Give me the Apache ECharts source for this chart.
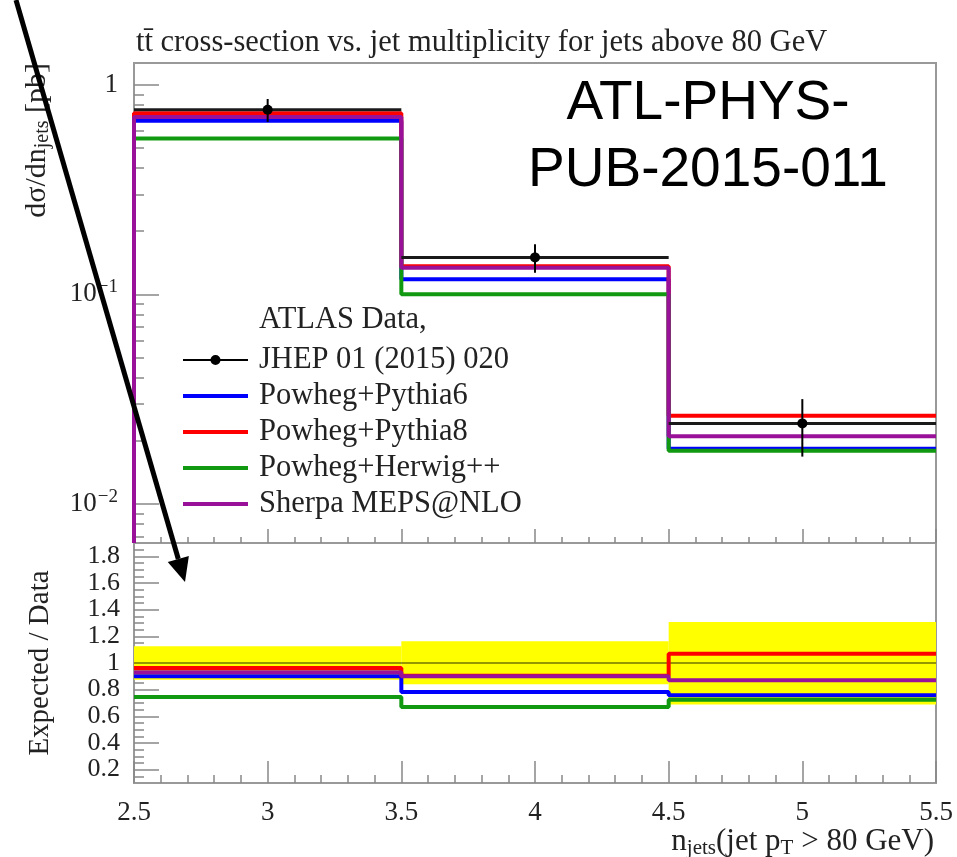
<!DOCTYPE html>
<html>
<head>
<meta charset="utf-8">
<script src="https://cdn.jsdelivr.net/npm/echarts@6/dist/echarts.min.js"></script>
<style>
  html, body { margin: 0; padding: 0; background: #fff; }
  #chart { width: 957px; height: 857px; }
</style>
</head>
<body>
<div id="chart"></div>
<script>
// n_jets bins
const binEdges = [2.5, 3.5, 4.5, 5.5];
const binCentres = [3, 4, 5];

// top panel, dsigma/dn_jets [pb]
const dataValues = [0.76, 0.150, 0.0242];
const dataErrors = [0.095, 0.0234, 0.0074];
const pythia6 = [0.673, 0.118, 0.0183];
const pythia8 = [0.732, 0.136, 0.0263];
const herwig = [0.554, 0.100, 0.0179];
const sherpa = [0.701, 0.134, 0.0210];

// bottom panel, Expected/Data
const bandLow = [0.875, 0.84, 0.688];
const bandHigh = [1.125, 1.163, 1.308];
const ratioData = [1, 1, 1];
const ratioPythia6 = [0.90, 0.783, 0.758];
const ratioPythia8 = [0.963, 0.905, 1.07];
const ratioHerwig = [0.745, 0.67, 0.725];
const ratioSherpa = [0.93, 0.90, 0.87];

// tick labels
const logTicks = [0.01, 0.1, 1];
const ratioTicks = [0.2, 0.4, 0.6, 0.8, 1, 1.2, 1.4, 1.6, 1.8];

const NAME_DATA = 'ATLAS Data, JHEP 01 (2015) 020';
const NAME_P6 = 'Powheg+Pythia6';
const NAME_P8 = 'Powheg+Pythia8';
const NAME_HW = 'Powheg+Herwig++';
const NAME_SH = 'Sherpa MEPS@NLO';

const SERIF = '"Liberation Serif", "Times New Roman", serif';
const SANS = '"Liberation Sans", Arial, sans-serif';
const TXT = '#222';
const Y_MIN = 0.0065, Y_MAX = 1.27;
const R_MIN = 0.1, R_MAX = 1.9;

// minor ticks (log decades 2..9, ratio every 0.05)
const logMinorTicks = [];
for (let e = -3; e <= 0; e++) {
    for (let m = 2; m <= 9; m++) {
        const v = +(m * Math.pow(10, e)).toPrecision(3);
        if (v > Y_MIN && v < Y_MAX) logMinorTicks.push(v);
    }
}
const ratioMinorTicks = [];
for (let k = 3; k <= 37; k++) ratioMinorTicks.push(+(k * 0.05).toFixed(2));

// histogram outline from bin edges
function histLine(values, fromBottom) {
    const pts = [];
    if (fromBottom) pts.push([binEdges[0], Y_MIN]);
    values.forEach((v, i) => {
        pts.push([binEdges[i], v]);
        pts.push([binEdges[i + 1], v]);
    });
    return pts;
}

function histSeries(name, values, color, xi, yi, fromBottom) {
    return {
        name: name,
        type: 'line',
        xAxisIndex: xi,
        yAxisIndex: yi,
        data: histLine(values, fromBottom),
        symbol: 'none',
        color: color,
        lineStyle: { color: color, width: 4 },
        silent: true,
        animation: false
    };
}

function renderBand(params, api) {
    const p1 = api.coord([api.value(0), api.value(3)]);
    const p2 = api.coord([api.value(1), api.value(2)]);
    return {
        type: 'rect',
        shape: { x: p1[0], y: p1[1], width: p2[0] - p1[0], height: p2[1] - p1[1] },
        style: { fill: '#ffff00' }
    };
}

function renderData(params, api) {
    const x = api.value(0), y = api.value(1), err = api.value(2);
    const c = api.coord([x, y]);
    const left = api.coord([api.value(3), y]);
    const right = api.coord([api.value(4), y]);
    const top = api.coord([x, y + err]);
    const bottom = api.coord([x, y - err]);
    return {
        type: 'group',
        children: [
            { type: 'line', shape: { x1: left[0], y1: c[1], x2: right[0], y2: c[1] }, style: { stroke: '#1a1a1a', lineWidth: 3 } },
            { type: 'line', shape: { x1: c[0], y1: top[1], x2: c[0], y2: bottom[1] }, style: { stroke: '#000', lineWidth: 2 } },
            { type: 'circle', shape: { cx: c[0], cy: c[1], r: 5 }, style: { fill: '#000' } }
        ]
    };
}

const tickStyle = { color: '#888', width: 1.5 };

function xAxisFor(gridIndex, showLabels, majorLen, minorLen) {
    return {
        type: 'value',
        gridIndex: gridIndex,
        min: 2.5,
        max: 5.5,
        interval: 0.5,
        axisLine: { show: false },
        splitLine: { show: false },
        axisTick: { show: true, inside: true, length: majorLen, lineStyle: tickStyle },
        minorTick: { show: true, splitNumber: 5, length: minorLen, lineStyle: tickStyle },
        axisLabel: {
            show: showLabels,
            margin: 16,
            fontFamily: SERIF,
            fontSize: 27,
            color: TXT,
            formatter: v => String(v)
        }
    };
}

// legend line icon (a bar as wide as the legend item)
const lineIcon = 'path://M0,3L65,3L65,7L0,7Z';

// arrow annotation
const arrowStart = [16, 0];
const arrowTip = [185, 582];
const dx = arrowTip[0] - arrowStart[0], dy = arrowTip[1] - arrowStart[1];
const len = Math.sqrt(dx * dx + dy * dy);
const ux = dx / len, uy = dy / len;
const headLen = 24, headHalf = 11;
const baseC = [arrowTip[0] - ux * headLen, arrowTip[1] - uy * headLen];

const chart = echarts.init(document.getElementById('chart'), null, { renderer: 'canvas' });

chart.setOption({
    animation: false,
    backgroundColor: '#fff',
    title: {
        text: 'tt\u0304 cross-section vs. jet multiplicity for jets above 80 GeV',
        left: 131,
        top: 22,
        textStyle: { fontFamily: SERIF, fontSize: 30.5, fontWeight: 'normal', color: TXT }
    },
    grid: [
        { left: 134, top: 63, width: 802, height: 480, show: true, borderColor: '#999', borderWidth: 2 },
        { left: 134, top: 543, width: 802, height: 240, show: true, borderColor: '#999', borderWidth: 2 }
    ],
    xAxis: [
        xAxisFor(0, false, 14, 6),
        xAxisFor(1, true, 22, 8)
    ],
    yAxis: [
        {
            type: 'log',
            logBase: 10,
            gridIndex: 0,
            position: 'left',
            min: Y_MIN,
            max: Y_MAX,
            axisLine: { show: false },
            splitLine: { show: false },
            axisTick: { show: true, inside: true, length: 25, customValues: logTicks, lineStyle: tickStyle },
            axisLabel: {
                customValues: logTicks,
                interval: 0,
                margin: 16,
                fontFamily: SERIF,
                fontSize: 27,
                color: TXT,
                formatter: v => {
                    const e = Math.round(Math.log10(v));
                    return e === 0 ? '1' : '10{sup|\u2212' + (-e) + '}';
                },
                rich: { sup: { fontFamily: SERIF, fontSize: 19, color: TXT, padding: [0, 0, 14, 1] } }
            }
        },
        {
            type: 'log',
            logBase: 10,
            gridIndex: 0,
            position: 'left',
            min: Y_MIN,
            max: Y_MAX,
            axisLine: { show: false },
            splitLine: { show: false },
            axisLabel: { show: false },
            axisTick: { show: true, inside: true, length: 10, customValues: logMinorTicks, lineStyle: tickStyle }
        },
        {
            type: 'value',
            gridIndex: 1,
            position: 'left',
            min: R_MIN,
            max: R_MAX,
            axisLine: { show: false },
            splitLine: { show: false },
            axisTick: { show: true, inside: true, length: 25, customValues: ratioTicks, lineStyle: tickStyle },
            axisLabel: {
                customValues: ratioTicks,
                interval: 0,
                hideOverlap: false,
                margin: 14,
                fontFamily: SERIF,
                fontSize: 26,
                color: TXT,
                formatter: v => String(+v.toFixed(1))
            }
        },
        {
            type: 'value',
            gridIndex: 1,
            position: 'left',
            min: R_MIN,
            max: R_MAX,
            axisLine: { show: false },
            splitLine: { show: false },
            axisLabel: { show: false },
            axisTick: { show: true, inside: true, length: 10, customValues: ratioMinorTicks, lineStyle: tickStyle }
        }
    ],
    legend: {
        orient: 'vertical',
        left: 178,
        top: 337,
        itemGap: 0,
        itemWidth: 65,
        itemHeight: 10,
        selectedMode: false,
        textStyle: { fontFamily: SERIF, fontSize: 30.5, color: TXT, lineHeight: 36, padding: [0, 0, 0, 6] },
        formatter: n => (n === NAME_DATA ? 'JHEP 01 (2015) 020' : n),
        data: [
            { name: NAME_DATA, icon: 'path://M0,4L65,4L65,6L0,6Z M32.5,0A5,5,0,1,1,32.5,10A5,5,0,1,1,32.5,0Z' },
            { name: NAME_P6, icon: lineIcon },
            { name: NAME_P8, icon: lineIcon },
            { name: NAME_HW, icon: lineIcon },
            { name: NAME_SH, icon: lineIcon }
        ]
    },
    series: [
        // top panel
        histSeries(NAME_P6, pythia6, '#0000ff', 0, 0, true),
        histSeries(NAME_P8, pythia8, '#ff0000', 0, 0, true),
        histSeries(NAME_HW, herwig, '#119911', 0, 0, true),
        histSeries(NAME_SH, sherpa, '#991199', 0, 0, true),
        {
            name: NAME_DATA,
            type: 'custom',
            xAxisIndex: 0,
            yAxisIndex: 0,
            color: '#000',
            itemStyle: { color: '#000' },
            renderItem: renderData,
            encode: { x: 0, y: 1 },
            data: binCentres.map((x, i) => [x, dataValues[i], dataErrors[i], binEdges[i], binEdges[i + 1]]),
            silent: true,
            z: 5
        },
        // ratio panel
        {
            name: 'data uncertainty',
            type: 'custom',
            xAxisIndex: 1,
            yAxisIndex: 2,
            renderItem: renderBand,
            encode: { x: [0, 1], y: [2, 3] },
            data: binCentres.map((x, i) => [binEdges[i], binEdges[i + 1], bandLow[i], bandHigh[i]]),
            silent: true,
            z: 1
        },
        {
            name: 'data ratio',
            type: 'line',
            xAxisIndex: 1,
            yAxisIndex: 2,
            data: histLine(ratioData, false),
            symbol: 'none',
            lineStyle: { color: 'rgba(0,0,0,0.55)', width: 1.5 },
            silent: true
        },
        histSeries(NAME_P6, ratioPythia6, '#0000ff', 1, 2, false),
        histSeries(NAME_P8, ratioPythia8, '#ff0000', 1, 2, false),
        histSeries(NAME_HW, ratioHerwig, '#119911', 1, 2, false),
        histSeries(NAME_SH, ratioSherpa, '#991199', 1, 2, false)
    ],
    graphic: [
        {
            type: 'text',
            left: 259,
            top: 304,
            style: { text: 'ATLAS Data,', fontFamily: SERIF, fontSize: 30.5, fill: TXT }
        },
        {
            type: 'text',
            x: 37,
            y: 63,
            rotation: Math.PI / 2,
            style: {
                text: 'd\u03c3/dn{sub|jets} [pb]',
                fontFamily: SERIF,
                fontSize: 30,
                fill: TXT,
                align: 'right',
                verticalAlign: 'middle',
                rich: { sub: { fontFamily: SERIF, fontSize: 20, fill: TXT, padding: [12, 0, 0, 0] } }
            }
        },
        {
            type: 'text',
            x: 40,
            y: 663,
            rotation: Math.PI / 2,
            style: {
                text: 'Expected / Data',
                fontFamily: SERIF,
                fontSize: 29,
                fill: TXT,
                align: 'center',
                verticalAlign: 'middle'
            }
        },
        {
            type: 'text',
            x: 934,
            y: 842,
            style: {
                text: 'n{sub|jets}(jet p{sub|T} > 80 GeV)',
                fontFamily: SERIF,
                fontSize: 31,
                fill: TXT,
                align: 'right',
                verticalAlign: 'middle',
                rich: { sub: { fontFamily: SERIF, fontSize: 21, fill: TXT, padding: [12, 0, 0, 0] } }
            }
        },
        {
            type: 'text',
            x: 708,
            y: 137,
            z: 50,
            style: {
                text: 'ATL-PHYS-\nPUB-2015-011',
                fontFamily: SANS,
                fontSize: 55,
                lineHeight: 67,
                fill: '#000',
                align: 'center',
                verticalAlign: 'middle'
            }
        },
        {
            type: 'line',
            z: 100,
            shape: { x1: arrowStart[0], y1: arrowStart[1], x2: baseC[0], y2: baseC[1] },
            style: { stroke: '#000', lineWidth: 5 }
        },
        {
            type: 'polygon',
            z: 100,
            shape: {
                points: [
                    arrowTip,
                    [baseC[0] + uy * headHalf, baseC[1] - ux * headHalf],
                    [baseC[0] - uy * headHalf, baseC[1] + ux * headHalf]
                ]
            },
            style: { fill: '#000' }
        }
    ]
});
</script>
</body>
</html>
